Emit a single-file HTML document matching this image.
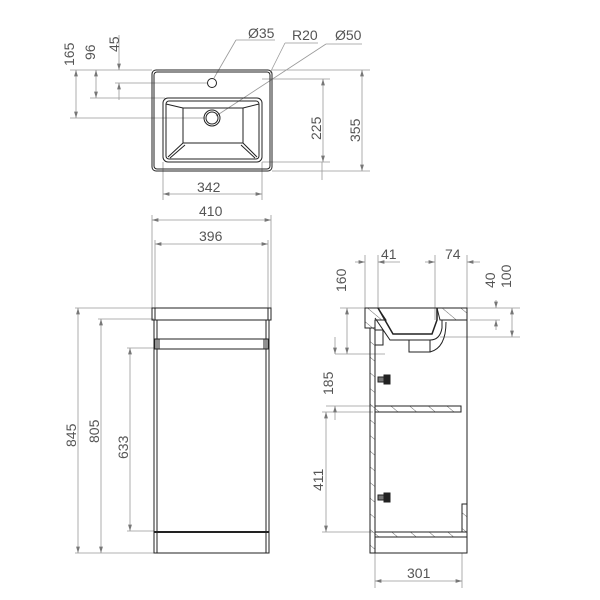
<!DOCTYPE html>
<html><head><style>body{margin:0;background:#fff}svg{display:block}text{font-family:"Liberation Sans",sans-serif;font-size:14px;fill:#555}</style></head><body>
<svg width="600" height="600" viewBox="0 0 600 600">
<defs>
<marker id="a" viewBox="0 0 10 6" refX="10" refY="3" markerWidth="8" markerHeight="5" orient="auto-start-reverse"><path d="M0,0L10,3L0,6z" fill="#777"/></marker>
<pattern id="h" width="12" height="12" patternUnits="userSpaceOnUse" patternTransform="rotate(-50)"><line x1="0" y1="0" x2="0" y2="12" stroke="#444" stroke-width="0.8"/></pattern>
</defs>
<g stroke="#999" stroke-width="0.8" fill="none">
<line x1="70" y1="70" x2="152" y2="70"/><line x1="90" y1="98" x2="165" y2="98"/><line x1="70" y1="118" x2="205" y2="118"/><line x1="115" y1="83" x2="207" y2="83"/>
<line x1="272" y1="70" x2="370" y2="70"/><line x1="272" y1="171" x2="370" y2="171"/><line x1="262" y1="79" x2="330" y2="79"/><line x1="262" y1="162" x2="330" y2="162"/><line x1="322" y1="162" x2="322" y2="180"/>
<line x1="163" y1="162" x2="163" y2="200"/><line x1="262" y1="162" x2="262" y2="200"/>
<line x1="76" y1="70" x2="76" y2="118" marker-start="url(#a)" marker-end="url(#a)"/>
<line x1="96" y1="70" x2="96" y2="98" marker-start="url(#a)" marker-end="url(#a)"/>
<line x1="119" y1="35" x2="119" y2="70" marker-end="url(#a)"/><line x1="119" y1="83" x2="119" y2="100" marker-start="url(#a)"/>
<line x1="362" y1="70" x2="362" y2="171" marker-start="url(#a)" marker-end="url(#a)"/>
<line x1="323" y1="79" x2="323" y2="162" marker-start="url(#a)" marker-end="url(#a)"/>
<line x1="163" y1="194" x2="262" y2="194" marker-start="url(#a)" marker-end="url(#a)"/>
<line x1="214" y1="78" x2="236" y2="40"/><line x1="236" y1="40" x2="275" y2="40"/>
<line x1="270" y1="73" x2="285" y2="43"/><line x1="285" y1="43" x2="318" y2="43"/>
<line x1="216" y1="116" x2="326" y2="44"/><line x1="326" y1="44" x2="362" y2="44"/>
<line x1="152" y1="215" x2="152" y2="308"/><line x1="271" y1="215" x2="271" y2="308"/><line x1="155" y1="240" x2="155" y2="308"/><line x1="268" y1="240" x2="268" y2="308"/>
<line x1="152" y1="220" x2="271" y2="220" marker-start="url(#a)" marker-end="url(#a)"/>
<line x1="155" y1="244" x2="268" y2="244" marker-start="url(#a)" marker-end="url(#a)"/>
<line x1="75" y1="308" x2="152" y2="308"/><line x1="98" y1="319" x2="154" y2="319"/><line x1="127" y1="348" x2="154" y2="348"/><line x1="75" y1="553" x2="154" y2="553"/><line x1="127" y1="531" x2="154" y2="531"/>
<line x1="78" y1="308" x2="78" y2="553" marker-start="url(#a)" marker-end="url(#a)"/>
<line x1="101" y1="319" x2="101" y2="553" marker-start="url(#a)" marker-end="url(#a)"/>
<line x1="130" y1="348" x2="130" y2="531" marker-start="url(#a)" marker-end="url(#a)"/>
<line x1="365" y1="255" x2="365" y2="308"/><line x1="378" y1="255" x2="378" y2="308"/><line x1="435" y1="255" x2="435" y2="320"/><line x1="467" y1="255" x2="467" y2="308"/>
<line x1="355" y1="262" x2="365" y2="262" marker-end="url(#a)"/><line x1="378" y1="262" x2="400" y2="262" marker-start="url(#a)"/>
<line x1="425" y1="262" x2="435" y2="262" marker-end="url(#a)"/><line x1="467" y1="262" x2="480" y2="262" marker-start="url(#a)"/>
<line x1="340" y1="308" x2="365" y2="308"/><line x1="335" y1="354" x2="385" y2="354"/><line x1="326" y1="406" x2="373" y2="406"/><line x1="322" y1="412" x2="373" y2="412"/><line x1="322" y1="532" x2="373" y2="532"/>
<line x1="347" y1="308" x2="347" y2="354" marker-start="url(#a)" marker-end="url(#a)"/>
<line x1="335" y1="337" x2="335" y2="354" marker-end="url(#a)"/><line x1="335" y1="406" x2="335" y2="420" marker-start="url(#a)"/>
<line x1="326" y1="412" x2="326" y2="532" marker-start="url(#a)" marker-end="url(#a)"/>
<line x1="467" y1="308" x2="520" y2="308"/><line x1="470" y1="320" x2="500" y2="320"/><line x1="440" y1="337" x2="520" y2="337"/>
<line x1="496" y1="300" x2="496" y2="308" marker-end="url(#a)"/><line x1="496" y1="320" x2="496" y2="330" marker-start="url(#a)"/>
<line x1="512" y1="308" x2="512" y2="337" marker-start="url(#a)" marker-end="url(#a)"/>
<line x1="375" y1="553" x2="375" y2="588"/><line x1="462" y1="537" x2="462" y2="588"/>
<line x1="375" y1="581" x2="462" y2="581" marker-start="url(#a)" marker-end="url(#a)"/>
</g>
<g stroke="#222" stroke-width="1" fill="none">
<rect x="152" y="70" width="120" height="101" rx="4"/><rect x="154" y="72" width="116" height="97" rx="3"/>
<rect x="163" y="98" width="99" height="64" rx="5"/><rect x="166" y="101" width="93" height="58" rx="3"/>
<rect x="183" y="108" width="60" height="35"/>
<path d="M166,104L183,108M259,104L243,108M168,157L183,143M257,157L243,143M170,158L185,145M255,158L241,145"/>
<circle cx="212" cy="118" r="8"/><circle cx="212" cy="118" r="6"/><circle cx="212" cy="83" r="4.5"/>
</g>
<g stroke="#222" stroke-width="1" fill="none">
<rect x="152" y="308" width="119" height="12"/><line x1="155" y1="308" x2="155" y2="320"/><line x1="268" y1="308" x2="268" y2="320"/>
<rect x="154" y="320" width="115" height="233"/><line x1="157" y1="320" x2="157" y2="553"/><line x1="266" y1="320" x2="266" y2="553"/>
<rect x="155" y="339" width="113" height="10"/><line x1="159" y1="339" x2="159" y2="349"/><line x1="264" y1="339" x2="264" y2="349"/>
<line x1="154" y1="532" x2="269" y2="532" stroke-width="2"/>
</g>
<g stroke="#222" stroke-width="1">
<path d="M365,308H378L386,320H375V328H365Z" fill="url(#h)"/>
<path d="M437,308H467V320H440Z" fill="url(#h)"/>
<line x1="378" y1="308" x2="437" y2="308" fill="none"/>
<path d="M378,308L393,334H432L437,320V308" fill="none" stroke-width="1.5"/>
<path d="M375,318L390,340H430Q440,340 442,328V320H467" fill="none"/>
<rect x="409" y="340" width="21" height="12" fill="#fff"/>
<path d="M430,352Q446,348 446,322" fill="none"/>
<rect x="370" y="328" width="5" height="225" fill="url(#h)"/>
<path d="M375,330H383V345H375" fill="none"/>
<line x1="467" y1="320" x2="467" y2="553" fill="none"/>
<rect x="375" y="406" width="86" height="6" fill="url(#h)"/>
<rect x="375" y="532" width="92" height="5" fill="url(#h)"/>
<rect x="375" y="537" width="92" height="16" fill="#fff"/>
<rect x="462" y="504" width="5" height="28" fill="url(#h)"/>
<rect x="378" y="377" width="6" height="5" fill="#777"/><rect x="384" y="375" width="6" height="9" fill="#222"/>
<rect x="378" y="495" width="6" height="5" fill="#777"/><rect x="384" y="493" width="6" height="9" fill="#222"/>
</g>
<g>
<text x="248" y="38">Ø35</text><text x="292" y="40">R20</text>
<text x="335" y="40">Ø50</text>
<text x="197" y="192">342</text><text x="199" y="216">410</text><text x="199" y="241">396</text>
<text transform="translate(74,66) rotate(-90)">165</text>
<text transform="translate(95,60) rotate(-90)">96</text>
<text transform="translate(119,52) rotate(-90)">45</text>
<text transform="translate(321,140) rotate(-90)">225</text>
<text transform="translate(360,142) rotate(-90)">355</text>
<text transform="translate(76,447) rotate(-90)">845</text>
<text transform="translate(99,443) rotate(-90)">805</text>
<text transform="translate(128,459) rotate(-90)">633</text>
<text transform="translate(346,292) rotate(-90)">160</text>
<text transform="translate(333,395) rotate(-90)">185</text>
<text transform="translate(323,491) rotate(-90)">411</text>
<text transform="translate(495,288) rotate(-90)">40</text>
<text transform="translate(511,288) rotate(-90)">100</text>
<text x="381" y="259">41</text><text x="445" y="259">74</text>
<text x="407" y="578">301</text>
</g>
</svg>
</body></html>
